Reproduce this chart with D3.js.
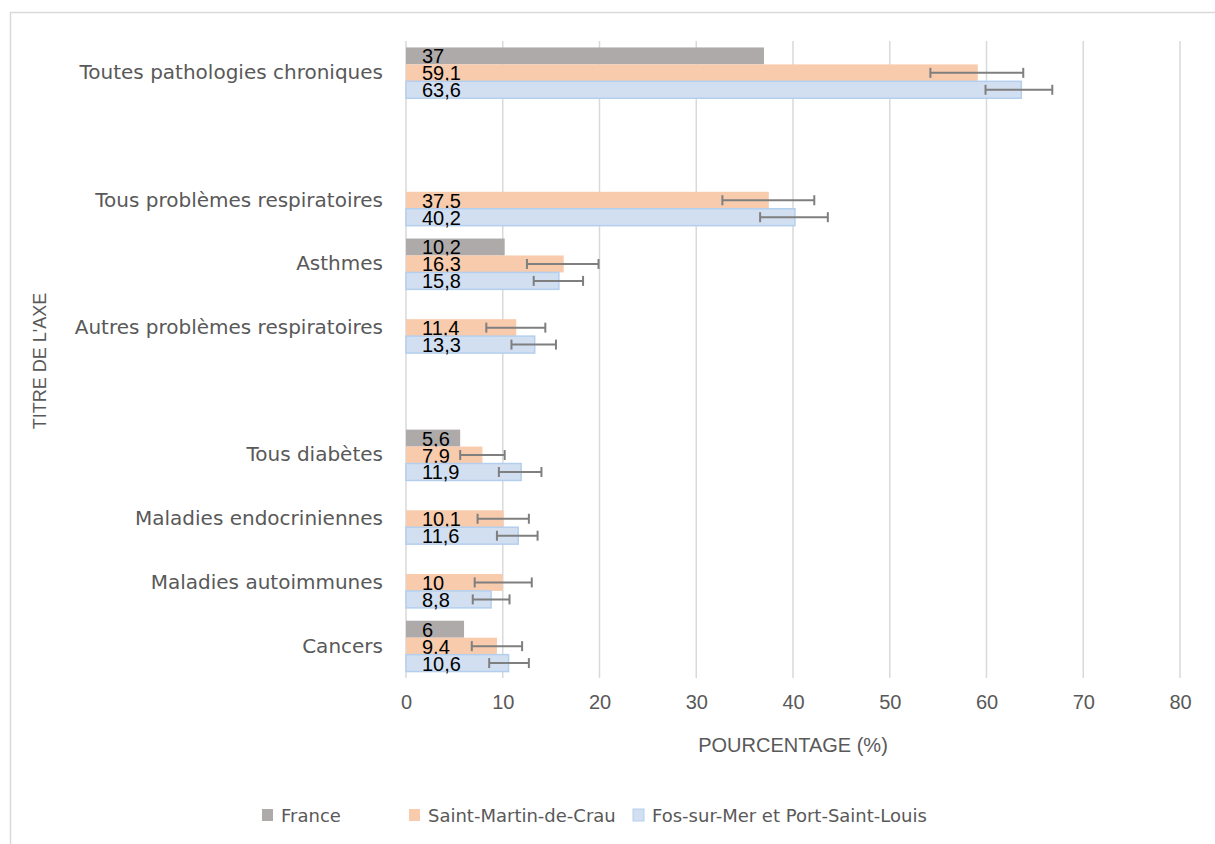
<!DOCTYPE html>
<html>
<head>
<meta charset="utf-8">
<script src="https://cdn.jsdelivr.net/npm/d3@7"></script>
<style>
  body { margin: 0; background: #fff; }
  text { font-family: "Liberation Sans", Arial, sans-serif; }
</style>
</head>
<body>
<div id="chart"></div>
<script>
// Prévalences des pathologies chroniques (%) - barres horizontales avec intervalles

const categories = [
  "Toutes pathologies chroniques", "", "Tous problèmes respiratoires", "Asthmes",
  "Autres problèmes respiratoires", "", "Tous diabètes ", "Maladies endocriniennes",
  "Maladies autoimmunes", "Cancers"
];
const seriesNames = ["France", "Saint-Martin-de-Crau", "Fos-sur-Mer et Port-Saint-Louis"];

const france = [37, null, null, 10.2, null, null, 5.6, null, null, 6];
const stMartin = [59.1, null, 37.5, 16.3, 11.4, null, 7.9, 10.1, 10, 9.4];
const stMartinLow = [54.2, null, 32.7, 12.5, 8.3, null, 5.6, 7.4, 7.1, 6.8];
const stMartinHigh = [63.8, null, 42.2, 19.9, 14.4, null, 10.2, 12.7, 13.0, 12.0];
const fos = [63.6, null, 40.2, 15.8, 13.3, null, 11.9, 11.6, 8.8, 10.6];
const fosLow = [59.9, null, 36.6, 13.2, 10.9, null, 9.6, 9.4, 6.9, 8.6];
const fosHigh = [66.8, null, 43.6, 18.3, 15.5, null, 14.0, 13.6, 10.7, 12.7];

const xTicks = [0, 10, 20, 30, 40, 50, 60, 70, 80];

const width = 1215, height = 844;
const plot = { left: 406, right: 1180, top: 41, bottom: 678 };
const labelFont = "'DejaVu Sans', 'Liberation Sans', sans-serif";

const svg = d3.select("#chart").append("svg")
  .attr("width", width)
  .attr("height", height);

// chart area border (only top and left visible)
svg.append("rect")
  .attr("x", 10.5).attr("y", 12.5)
  .attr("width", 1240).attr("height", 860)
  .attr("fill", "none")
  .attr("stroke", "#d9d9d9")
  .attr("stroke-width", 1.5);

const x = d3.scaleLinear().domain([0, 80]).range([plot.left, plot.right]);
const y = d3.scaleBand().domain(d3.range(categories.length)).range([plot.top, plot.bottom]);
const sub = d3.scaleBand().domain(seriesNames).range([0, y.bandwidth()]).paddingOuter(0.38);

// gridlines
svg.append("g")
  .selectAll("line")
  .data(xTicks)
  .join("line")
  .attr("x1", d => x(d)).attr("x2", d => x(d))
  .attr("y1", plot.top).attr("y2", plot.bottom)
  .attr("stroke", "#d9d9d9")
  .attr("stroke-width", 1.5);

// x axis
const xAxis = svg.append("g")
  .attr("transform", `translate(0,${plot.bottom})`)
  .call(d3.axisBottom(x).tickValues(xTicks).tickSize(0).tickPadding(17));
xAxis.select(".domain").remove();
xAxis.selectAll("text")
  .attr("font-size", 20)
  .attr("fill", "#595959")
  .style("font-family", "'Liberation Sans', Arial, sans-serif");

// y axis (category labels)
const yAxis = svg.append("g")
  .attr("transform", `translate(${plot.left},0)`)
  .call(d3.axisLeft(y).tickFormat(i => categories[i]).tickSize(0).tickPadding(23));
yAxis.select(".domain").remove();
yAxis.selectAll("text")
  .attr("font-size", 20)
  .attr("fill", "#595959")
  .style("font-family", labelFont);

const series = [
  { name: seriesNames[0], values: france, fill: "#aeaaaa", stroke: "none" },
  { name: seriesNames[1], values: stMartin, low: stMartinLow, high: stMartinHigh, fill: "#f8cbad", stroke: "none" },
  { name: seriesNames[2], values: fos, low: fosLow, high: fosHigh, fill: "#d2dff1", stroke: "#b4cfee" }
];

series.forEach(s => {
  const rows = s.values.map((v, i) => ({ i, v, lo: s.low ? s.low[i] : null, hi: s.high ? s.high[i] : null }))
    .filter(d => d.v != null);
  const g = svg.append("g");
  const by = d => y(d.i) + sub(s.name);

  g.selectAll("rect")
    .data(rows)
    .join("rect")
    .attr("x", x(0))
    .attr("y", by)
    .attr("width", d => x(d.v) - x(0))
    .attr("height", sub.bandwidth())
    .attr("fill", s.fill)
    .attr("stroke", s.stroke)
    .attr("stroke-width", 1.5);

  g.selectAll("text")
    .data(rows)
    .join("text")
    .attr("x", x(0) + 16)
    .attr("y", d => by(d) + sub.bandwidth() - 1)
    .attr("font-size", 20)
    .attr("fill", "#000")
    .text(d => String(d.v).replace(".", ","));

  if (s.low) {
    const eb = g.append("g").attr("stroke", "#7f7f7f").attr("stroke-width", 2);
    const cy = d => by(d) + sub.bandwidth() / 2;
    eb.selectAll(".eb").data(rows).join("line")
      .attr("x1", d => x(d.lo)).attr("x2", d => x(d.hi))
      .attr("y1", cy).attr("y2", cy);
    eb.selectAll(".capl").data(rows).join("line")
      .attr("x1", d => x(d.lo)).attr("x2", d => x(d.lo))
      .attr("y1", d => cy(d) - 5).attr("y2", d => cy(d) + 5);
    eb.selectAll(".caph").data(rows).join("line")
      .attr("x1", d => x(d.hi)).attr("x2", d => x(d.hi))
      .attr("y1", d => cy(d) - 5).attr("y2", d => cy(d) + 5);
  }
});

// axis titles
svg.append("text")
  .attr("x", (plot.left + plot.right) / 2)
  .attr("y", 752)
  .attr("text-anchor", "middle")
  .attr("font-size", 20)
  .attr("fill", "#595959")
  .text("POURCENTAGE (%)");

svg.append("text")
  .attr("transform", "translate(46,361) rotate(-90)")
  .attr("text-anchor", "middle")
  .attr("font-size", 18)
  .attr("fill", "#595959")
  .text("TITRE DE L'AXE");

// legend
const legendX = [262, 409, 633];
const legend = svg.append("g").attr("transform", "translate(0,815)");
series.forEach((s, k) => {
  legend.append("rect")
    .attr("x", legendX[k]).attr("y", -6)
    .attr("width", 11).attr("height", 12)
    .attr("fill", s.fill)
    .attr("stroke", s.stroke);
  legend.append("text")
    .attr("x", legendX[k] + 19)
    .attr("y", 7)
    .attr("font-size", 18)
    .attr("fill", "#595959")
    .style("font-family", labelFont)
    .text(s.name);
});
</script>
</body>
</html>
